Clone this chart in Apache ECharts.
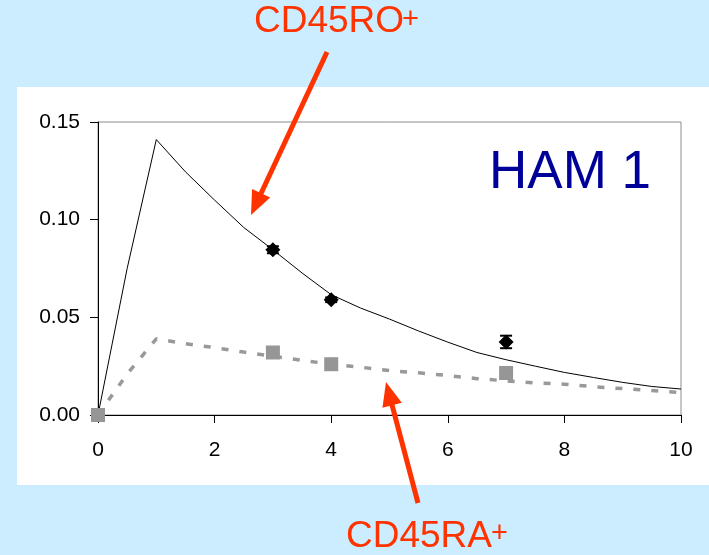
<!DOCTYPE html>
<html>
<head>
<meta charset="utf-8">
<script src="https://cdn.jsdelivr.net/npm/echarts/dist/echarts.min.js"></script>
<style>
  html, body { margin: 0; padding: 0; background: #CCECFF; }
  #chart { width: 709px; height: 555px; }
</style>
</head>
<body>
<div id="chart"></div>
<script>
// Time points (days) of the model curves
const modelDays = [0, 0.5, 1, 1.5, 2, 2.5, 3, 3.5, 4, 4.5, 5, 5.5, 6, 6.5, 7, 7.5, 8, 8.5, 9, 9.5, 10];
// Fitted labelled fraction, CD45RO+ cells (solid line)
const roModel = [0, 0.075, 0.141, 0.1245, 0.110, 0.096, 0.0846, 0.0727, 0.0616, 0.0548, 0.0491, 0.043, 0.0373, 0.032, 0.0283, 0.025, 0.0218, 0.0192, 0.0167, 0.0146, 0.0133];
// Fitted labelled fraction, CD45RA+ cells (dashed line)
const raModel = [0, 0.021, 0.039, 0.0365, 0.0345, 0.0322, 0.030, 0.028, 0.026, 0.0245, 0.0227, 0.0216, 0.0202, 0.0186, 0.0175, 0.0164, 0.0158, 0.0145, 0.0135, 0.0125, 0.0115];

// Measured samples
const roDays = [3, 4, 7];
const roObs = [0.0846, 0.059, 0.0374];
const roErr = [0.0018, 0.0012, 0.0032];
const raDays = [0, 3, 4, 7];
const raObs = [0, 0.032, 0.026, 0.0215];

// Axis ranges and steps
const xMin = 0, xMax = 10, xStep = 2;
const yMin = 0, yMax = 0.15, yStep = 0.05;

const RED = '#FF3300';
const FONT = '"Liberation Sans", Arial, sans-serif';

function pairs(xs, ys) { return xs.map((x, i) => [x, ys[i]]); }

function arrow(x1, y1, x2, y2) {
  const dx = x2 - x1, dy = y2 - y1, L = Math.hypot(dx, dy);
  const ux = dx / L, uy = dy / L;
  const hl = 24, hw = 10;
  const bx = x2 - ux * hl, by = y2 - uy * hl;
  return [
    { type: 'line', z: 100, silent: true,
      shape: { x1: x1, y1: y1, x2: bx + ux * 2, y2: by + uy * 2 },
      style: { stroke: RED, lineWidth: 5 } },
    { type: 'polygon', z: 100, silent: true,
      shape: { points: [[x2, y2], [bx - uy * hw, by + ux * hw], [bx + uy * hw, by - ux * hw]] },
      style: { fill: RED } }
  ];
}

const chart = echarts.init(document.getElementById('chart'), null, { renderer: 'canvas' });

const labelStyle = { color: '#000', fontSize: 21, fontFamily: FONT };
const axisCommon = {
  axisLine: { show: true, onZero: false, lineStyle: { color: '#000', width: 1 } },
  axisTick: { show: true, inside: false, length: 8, lineStyle: { color: '#000', width: 1 } },
  splitLine: { show: false }
};

chart.setOption({
  animation: false,
  backgroundColor: '#CCECFF',
  grid: {
    left: 98, right: 28, top: 122, bottom: 140,
    show: true, borderColor: '#8c8c8c', borderWidth: 1, backgroundColor: 'transparent'
  },
  xAxis: Object.assign({ type: 'value', min: xMin, max: xMax, interval: xStep }, axisCommon, {
    axisLabel: Object.assign({}, labelStyle, { margin: 25 })
  }),
  yAxis: Object.assign({ type: 'value', min: yMin, max: yMax, interval: yStep }, axisCommon, {
    axisLabel: Object.assign({}, labelStyle, { margin: 18, formatter: v => v.toFixed(2) })
  }),
  series: [
    {
      name: 'CD45RO+ model', type: 'line', data: pairs(modelDays, roModel),
      showSymbol: false, symbol: 'none', z: 3,
      lineStyle: { color: '#000', width: 1 }
    },
    {
      name: 'CD45RA+ model', type: 'line', data: pairs(modelDays, raModel),
      showSymbol: false, symbol: 'none', z: 3,
      lineStyle: { color: '#999999', width: 3.5, type: [7, 11] }
    },
    {
      name: 'CD45RO+ error', type: 'custom', z: 4,
      data: roDays.map((d, i) => [d, roObs[i] - roErr[i], roObs[i] + roErr[i]]),
      renderItem: function (params, api) {
        const x = api.value(0);
        const top = api.coord([x, api.value(2)]);
        const bot = api.coord([x, api.value(1)]);
        const w = 6;
        const st = { stroke: '#000', lineWidth: 2 };
        return {
          type: 'group',
          children: [
            { type: 'line', shape: { x1: top[0], y1: top[1], x2: bot[0], y2: bot[1] }, style: st },
            { type: 'line', shape: { x1: top[0] - w, y1: top[1], x2: top[0] + w, y2: top[1] }, style: st },
            { type: 'line', shape: { x1: bot[0] - w, y1: bot[1], x2: bot[0] + w, y2: bot[1] }, style: st }
          ]
        };
      }
    },
    {
      name: 'CD45RO+', type: 'scatter', data: pairs(roDays, roObs), z: 5,
      symbol: 'diamond', symbolSize: [15, 15],
      itemStyle: { color: '#000', opacity: 1 }
    },
    {
      name: 'CD45RA+', type: 'scatter', data: pairs(raDays, raObs), z: 5,
      symbol: 'rect', symbolSize: 14,
      itemStyle: { color: '#969696', opacity: 1 }
    }
  ],
  graphic: [
    { type: 'rect', z: -100, silent: true,
      shape: { x: 17, y: 87, width: 709 - 17, height: 485 - 87 },
      style: { fill: '#ffffff' } },
    { type: 'text', z: 100, silent: true,
      style: { x: 489, y: 173, text: 'HAM 1', fill: '#000099', font: '53px ' + FONT,
               textAlign: 'left', textVerticalAlign: 'middle' } },
    { type: 'text', z: 100, silent: true,
      style: { x: 254, y: 22, text: 'CD45RO', fill: RED, font: '37px ' + FONT,
               textAlign: 'left', textVerticalAlign: 'middle' } },
    { type: 'text', z: 100, silent: true,
      style: { x: 402, y: 20, text: '+', fill: RED, font: '29px ' + FONT,
               textAlign: 'left', textVerticalAlign: 'middle' } },
    { type: 'text', z: 100, silent: true,
      style: { x: 346, y: 537, text: 'CD45RA', fill: RED, font: '37px ' + FONT,
               textAlign: 'left', textVerticalAlign: 'middle' } },
    { type: 'text', z: 100, silent: true,
      style: { x: 491, y: 534, text: '+', fill: RED, font: '29px ' + FONT,
               textAlign: 'left', textVerticalAlign: 'middle' } }
  ].concat(arrow(327, 52, 251, 215), arrow(418, 503, 386, 382))
});
</script>
</body>
</html>
